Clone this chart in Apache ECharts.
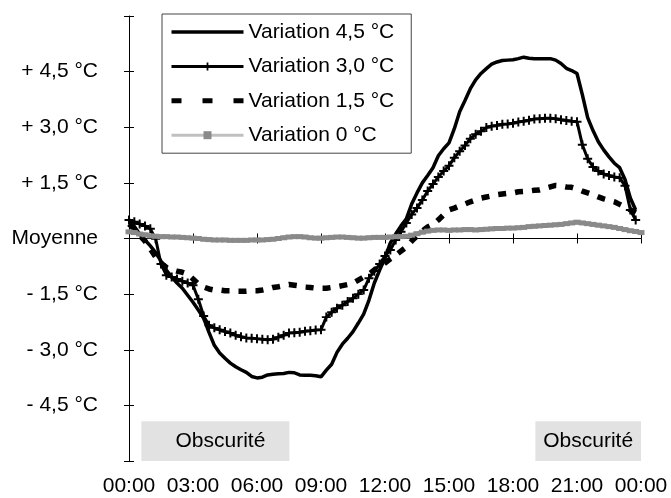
<!DOCTYPE html>
<html>
<head>
<meta charset="utf-8">
<script src="https://cdn.jsdelivr.net/npm/echarts@6/dist/echarts.min.js"></script>
<style>
  html, body { margin: 0; background: #fff; }
  #chart { width: 671px; height: 498px; }
</style>
</head>
<body>
<div id="chart"></div>
<script>
// quarter-hour time grid, in hours
const times = [];
for (let m = 0; m <= 24 * 60; m += 15) times.push(m / 60);

const seriesNames = ["Variation 4,5 °C", "Variation 3,0 °C", "Variation 1,5 °C", "Variation 0 °C"];

const var45 = [
  0.50, 0.32, 0.12, -0.04, -0.20, -0.38, -0.61, -0.85, -1.04, -1.20,
  -1.34, -1.53, -1.72, -1.93, -2.15, -2.53, -2.88, -3.09, -3.23, -3.36,
  -3.46, -3.54, -3.61, -3.72, -3.76, -3.74, -3.68, -3.66, -3.65, -3.64,
  -3.61, -3.62, -3.68, -3.69, -3.69, -3.70, -3.73, -3.55, -3.39, -3.07,
  -2.85, -2.69, -2.51, -2.28, -2.04, -1.66, -1.20, -0.85, -0.53, -0.12,
  0.12, 0.34, 0.53, 0.93, 1.23, 1.50, 1.70, 1.91, 2.23, 2.42,
  2.58, 2.96, 3.42, 3.72, 4.04, 4.28, 4.45, 4.58, 4.70, 4.76,
  4.80, 4.81, 4.82, 4.85, 4.89, 4.86, 4.85, 4.85, 4.85, 4.85,
  4.81, 4.72, 4.59, 4.53, 4.45, 3.88, 3.26, 2.91, 2.61, 2.39,
  2.20, 2.03, 1.91, 1.59, 1.09, 0.77
];

const var30 = [
  0.50, 0.45, 0.39, 0.34, 0.26, -0.01, -0.69, -0.99, -1.04, -1.09,
  -1.15, -1.20, -1.26, -1.64, -2.09, -2.34, -2.41, -2.46, -2.51, -2.55,
  -2.61, -2.65, -2.68, -2.69, -2.70, -2.72, -2.73, -2.72, -2.66, -2.61,
  -2.55, -2.54, -2.53, -2.50, -2.49, -2.47, -2.46, -2.12, -1.99, -1.88,
  -1.80, -1.70, -1.61, -1.50, -1.39, -1.07, -0.88, -0.69, -0.47, -0.31,
  -0.04, 0.18, 0.42, 0.65, 0.82, 1.04, 1.28, 1.47, 1.66, 1.82,
  1.96, 2.18, 2.35, 2.51, 2.69, 2.81, 2.89, 2.99, 3.03, 3.05,
  3.08, 3.09, 3.11, 3.14, 3.16, 3.19, 3.22, 3.23, 3.24, 3.24,
  3.23, 3.20, 3.18, 3.16, 3.15, 2.53, 2.15, 1.93, 1.82, 1.74,
  1.70, 1.66, 1.64, 1.42, 0.77, 0.50
];

const var15 = [
  0.39, 0.26, 0.09, -0.07, -0.28, -0.50, -0.66, -0.78, -0.84, -0.88,
  -0.91, -0.96, -1.09, -1.23, -1.31, -1.36, -1.39, -1.39, -1.41, -1.41,
  -1.42, -1.42, -1.42, -1.41, -1.41, -1.39, -1.36, -1.32, -1.30, -1.27,
  -1.24, -1.26, -1.28, -1.31, -1.32, -1.34, -1.34, -1.34, -1.32, -1.30,
  -1.27, -1.24, -1.20, -1.12, -1.04, -0.96, -0.85, -0.76, -0.66, -0.55,
  -0.45, -0.34, -0.23, -0.07, 0.07, 0.20, 0.31, 0.38, 0.50, 0.64,
  0.77, 0.82, 0.88, 0.93, 0.99, 1.04, 1.09, 1.12, 1.15, 1.18,
  1.20, 1.22, 1.23, 1.26, 1.27, 1.28, 1.30, 1.31, 1.35, 1.39,
  1.43, 1.42, 1.39, 1.38, 1.34, 1.28, 1.23, 1.18, 1.12, 1.07,
  1.03, 0.99, 0.92, 0.85, 0.77, 0.69
];

const var0 = [
  0.18, 0.16, 0.12, 0.10, 0.07, 0.06, 0.05, 0.05, 0.04, 0.04,
  0.03, 0.02, 0.01, 0.00, -0.02, -0.03, -0.04, -0.04, -0.04, -0.05,
  -0.05, -0.05, -0.05, -0.04, -0.04, -0.04, -0.03, -0.02, 0.00, 0.02,
  0.04, 0.05, 0.05, 0.04, 0.02, 0.01, 0.01, 0.02, 0.03, 0.04,
  0.04, 0.03, 0.02, 0.01, 0.01, 0.02, 0.03, 0.03, 0.03, 0.04,
  0.05, 0.05, 0.06, 0.09, 0.13, 0.17, 0.20, 0.22, 0.23, 0.23,
  0.22, 0.23, 0.23, 0.24, 0.24, 0.23, 0.24, 0.25, 0.26, 0.27,
  0.27, 0.28, 0.28, 0.29, 0.30, 0.32, 0.33, 0.34, 0.35, 0.36,
  0.37, 0.38, 0.40, 0.42, 0.44, 0.42, 0.40, 0.38, 0.36, 0.34,
  0.32, 0.30, 0.27, 0.24, 0.21, 0.19, 0.16
];

// darkness periods [start hour, end hour]
const darkLabel = "Obscurité";
const darkPeriods = [[0.58, 7.52], [19.05, 24.5]];
const darkTop = -4.93;

const FONT = "'Liberation Sans', Arial, sans-serif";
const CROSS = "path://M-0.22,-1H0.22V-0.22H1V0.22H0.22V1H-0.22V0.22H-1V-0.22H-0.22Z";

function pairs(values) {
  return values.map(function (v, i) { return [times[i], v]; });
}

function yLabel(v) {
  if (Math.abs(v) > 5.9) return "";
  if (v === 0) return "Moyenne";
  return (v > 0 ? "+ " : "- ") + Math.abs(v).toFixed(1).replace(".", ",") + " °C";
}

function xLabel(v) {
  const h = Math.round(v) % 24;
  return (h < 10 ? "0" : "") + h + ":00";
}

const chart = echarts.init(document.getElementById("chart"));

const axisLine = { lineStyle: { color: "#000", width: 1 } };

chart.setOption({
  animation: false,
  backgroundColor: "#fff",
  grid: { left: 129, top: 16, width: 512, height: 445 },
  legend: {
    orient: "vertical",
    left: 162,
    top: 14,
    padding: [6, 17, 6, 7],
    itemWidth: 72,
    itemHeight: 10,
    itemGap: 10.4,
    selectedMode: false,
    borderColor: "#444",
    borderWidth: 1,
    backgroundColor: "#fff",
    textStyle: { color: "#000", fontSize: 21, lineHeight: 24, fontFamily: FONT },
    data: [
      { name: seriesNames[0], lineStyle: { width: 3.5 }, itemStyle: { opacity: 0 } },
      { name: seriesNames[1], lineStyle: { width: 3 } },
      { name: seriesNames[2], lineStyle: { width: 5, type: [10, 21] }, itemStyle: { opacity: 0 } },
      { name: seriesNames[3], lineStyle: { width: 3, color: "#c0c0c0" } }
    ]
  },
  xAxis: [
    {
      type: "value", min: 0, max: 24, interval: 3,
      axisLine: axisLine,
      axisTick: { length: 5, lineStyle: { color: "#000" } },
      axisLabel: { formatter: xLabel, color: "#000", fontSize: 21, fontFamily: FONT, margin: 15 },
      splitLine: { show: false }
    },
    {
      type: "value", min: 0, max: 24, interval: 3, position: "bottom",
      axisLine: { show: false },
      axisTick: { inside: true, length: 5, lineStyle: { color: "#000" } },
      axisLabel: { show: false },
      splitLine: { show: false }
    }
  ],
  yAxis: [
    {
      type: "value", min: -6, max: 6, interval: 1.5,
      axisLine: axisLine,
      axisTick: { length: 5, lineStyle: { color: "#000" } },
      axisLabel: {
        formatter: yLabel, color: "#000", fontSize: 21, fontFamily: FONT,
        margin: 31, verticalAlign: "middle", padding: [0, 0, 6, 0]
      },
      splitLine: { show: false }
    },
    {
      type: "value", min: -6, max: 6, interval: 1.5, position: "left",
      axisLine: { show: false },
      axisTick: { inside: true, length: 5, lineStyle: { color: "#000" } },
      axisLabel: { show: false },
      splitLine: { show: false }
    }
  ],
  series: [
    {
      name: seriesNames[0],
      type: "line",
      data: pairs(var45),
      symbol: "none",
      lineStyle: { color: "#000", width: 3.5 },
      itemStyle: { color: "#000" },
      clip: false,
      markArea: {
        silent: true,
        itemStyle: { color: "#e2e2e2" },
        label: { show: true, position: "inside", color: "#000", fontSize: 21, fontFamily: FONT },
        data: darkPeriods.map(function (p, i) {
          return [
            { name: darkLabel, xAxis: p[0], yAxis: -6, label: { offset: [i === 0 ? 5 : 0, 0] } },
            { xAxis: p[1], yAxis: darkTop }
          ];
        })
      },
      z: 2
    },
    {
      name: seriesNames[1],
      type: "line",
      data: pairs(var30),
      symbol: CROSS,
      symbolSize: 9,
      showAllSymbol: true,
      lineStyle: { color: "#000", width: 3 },
      itemStyle: { color: "#000" },
      z: 3
    },
    {
      name: seriesNames[2],
      type: "line",
      data: pairs(var15),
      symbol: "none",
      lineStyle: { color: "#000", width: 5.5, type: [8, 9], cap: "butt" },
      itemStyle: { color: "#000" },
      z: 4
    },
    {
      name: seriesNames[3],
      type: "line",
      data: pairs(var0),
      symbol: "rect",
      symbolSize: [7, 5],
      showAllSymbol: true,
      lineStyle: { color: "#8a8a8a", width: 4 },
      itemStyle: { color: "#8a8a8a" },
      clip: false,
      z: 5
    }
  ]
});
</script>
</body>
</html>
